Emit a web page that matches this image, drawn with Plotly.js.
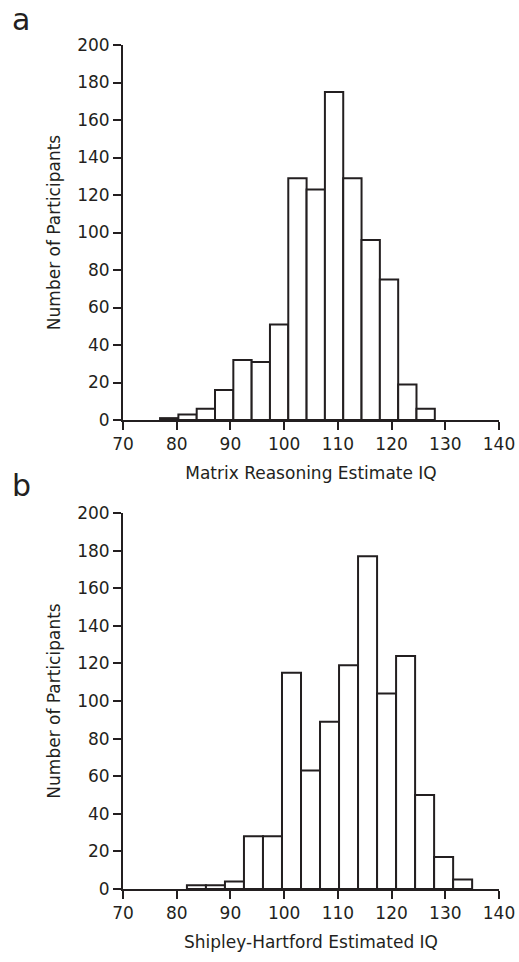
<!DOCTYPE html>
<html>
<head>
<meta charset="utf-8">
<script src="https://cdn.plot.ly/plotly-3.0.1.min.js"></script>
<style>html,body{margin:0;padding:0;background:#fff;}#chart{width:519px;height:962px;}</style>
</head>
<body>
<div id="chart"></div>
<script>
// Panel a: Matrix Reasoning estimated IQ histogram
const mrBinStart = 76.9;
const mrBinWidth = 3.41;
const mrCounts = [1, 3, 6, 16, 32, 31, 51, 129, 123, 175, 129, 96, 75, 19, 6];

// Panel b: Shipley-Hartford estimated IQ histogram
const shBinStart = 81.9;
const shBinWidth = 3.54;
const shCounts = [2, 2, 4, 28, 28, 115, 63, 89, 119, 177, 104, 124, 50, 17, 5];

const xTickVals = [70, 80, 90, 100, 110, 120, 130, 140];
const yTickVals = [0, 20, 40, 60, 80, 100, 120, 140, 160, 180, 200];
const xTitleA = 'Matrix Reasoning Estimate IQ';
const xTitleB = 'Shipley-Hartford Estimated IQ';
const yTitle = 'Number of Participants';

const ink = '#231f20';
const fontFam = 'DejaVu Sans, sans-serif';

function centers(start, width, n) {
  const out = [];
  for (let i = 0; i < n; i++) out.push(start + (i + 0.5) * width);
  return out;
}

function barTrace(start, width, counts, xa, ya) {
  return {
    type: 'bar',
    x: centers(start, width, counts.length),
    y: counts,
    width: counts.map(() => width),
    xaxis: xa, yaxis: ya,
    marker: {color: '#ffffff', line: {color: ink, width: 2}},
    hoverinfo: 'x+y',
    showlegend: false
  };
}

const data = [
  barTrace(mrBinStart, mrBinWidth, mrCounts, 'x', 'y'),
  barTrace(shBinStart, shBinWidth, shCounts, 'x2', 'y2')
];

function xAxis(title, anchor) {
  return {
    domain: [123/519, 499/519],
    anchor: anchor,
    range: [70, 140],
    tickvals: xTickVals,
    ticks: 'outside', ticklen: 8, tickwidth: 2, tickcolor: ink,
    showline: true, linewidth: 2, linecolor: ink,
    showgrid: false, zeroline: false,
    tickfont: {family: fontFam, size: 17, color: ink},
    title: {text: title, font: {family: fontFam, size: 17, color: ink}, standoff: 14}
  };
}
function yAxis(domain, anchor) {
  return {
    domain: domain,
    anchor: anchor,
    range: [0, 200],
    tickvals: yTickVals,
    ticks: 'outside', ticklen: 8, tickwidth: 2, tickcolor: ink,
    showline: true, linewidth: 2, linecolor: ink,
    showgrid: false, zeroline: false,
    tickfont: {family: fontFam, size: 17, color: ink},
    title: {text: yTitle, font: {family: fontFam, size: 17, color: ink}, standoff: 12}
  };
}

const layout = {
  width: 519, height: 962,
  margin: {l: 0, r: 0, t: 0, b: 0},
  paper_bgcolor: '#ffffff', plot_bgcolor: '#ffffff',
  bargap: 0,
  font: {family: fontFam, color: ink},
  xaxis: xAxis(xTitleA, 'y'),
  yaxis: yAxis([1 - 420/962, 1 - 45/962], 'x'),
  xaxis2: xAxis(xTitleB, 'y2'),
  yaxis2: yAxis([1 - 889/962, 1 - 513/962], 'x2'),
  annotations: [
    {text: 'a', xref: 'paper', yref: 'paper', x: 10/519, y: 1 - 0/962, xanchor: 'left', yanchor: 'top',
     showarrow: false, font: {family: fontFam, size: 30, color: ink}},
    {text: 'b', xref: 'paper', yref: 'paper', x: 10/519, y: 1 - 466/962, xanchor: 'left', yanchor: 'top',
     showarrow: false, font: {family: fontFam, size: 30, color: ink}}
  ]
};

Plotly.newPlot('chart', data, layout, {displayModeBar: false, staticPlot: true});
</script>
</body>
</html>
